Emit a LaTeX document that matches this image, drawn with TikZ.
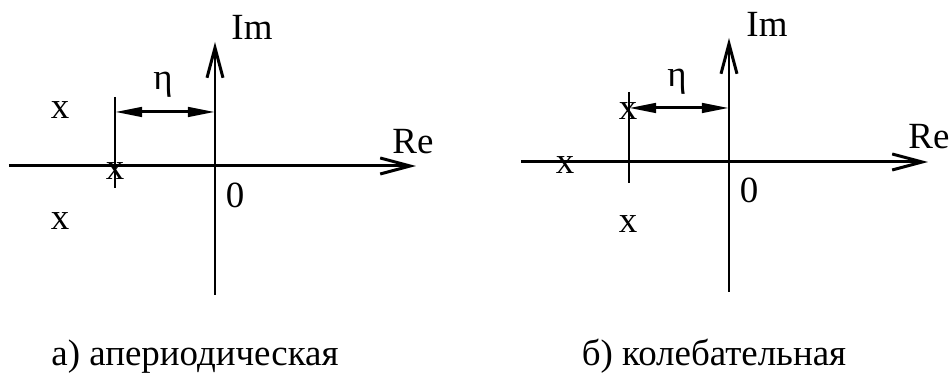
\documentclass[tikz,border=0pt]{standalone}
\usepackage{fontspec}
\setmainfont{Liberation Serif}
\usetikzlibrary{arrows.meta}

\begin{document}
\begin{tikzpicture}[
        x=0.01cm, y=-0.01cm,
        line width=0.85pt,
        font=\fontsize{10.5}{12}\selectfont,
        axis/.style={-{Straight Barb[length=3mm, width=1.6mm]}},
        dim/.style={{Triangle[length=2.7mm, width=0.95mm]}-{Triangle[length=2.7mm, width=0.95mm]}},
        lbl/.style={inner sep=0pt, anchor=center},
        pole/.style={inner sep=0pt, anchor=center},
        caption/.style={inner sep=0pt, anchor=base},
      ]
      \useasboundingbox (0,0) rectangle (950,374);

      % a) aperiodic
      \coordinate (reA0) at (9,166);
      \coordinate (reA1) at (416,166);
      \coordinate (imA0) at (215,295);
      \coordinate (imA1) at (215,42);
      \coordinate (tkA0) at (115,97);
      \coordinate (tkA1) at (115,188);
      \coordinate (dmA0) at (115,112);
      \coordinate (dmA1) at (215,112);

      \draw[axis] (reA0) -- (reA1);
      \draw[axis] (imA0) -- (imA1);
      \draw (tkA0) -- (tkA1);
      \draw[dim] (dmA0) -- (dmA1);

      \node[lbl] (imA) at (252,27) {Im};
      \node[lbl] (reA) at (413,142) {Re};
      \node[lbl] (zeroA) at (235,195) {0};
      \node[lbl] (etaA) at (163,85) {η};
      \node[pole] (pA1) at (60,110) {x};
      \node[pole] (pA2) at (115,171) {x};
      \node[pole] (pA3) at (60,221) {x};

      % b) oscillating
      \coordinate (reB0) at (521,162);
      \coordinate (reB1) at (928,162);
      \coordinate (imB0) at (729,292);
      \coordinate (imB1) at (729,38);
      \coordinate (tkB0) at (629,92);
      \coordinate (tkB1) at (629,183);
      \coordinate (dmB0) at (629,108);
      \coordinate (dmB1) at (729,108);

      \draw[axis] (reB0) -- (reB1);
      \draw[axis] (imB0) -- (imB1);
      \draw (tkB0) -- (tkB1);
      \draw[dim] (dmB0) -- (dmB1);

      \node[lbl] (imB) at (767,24) {Im};
      \node[lbl] (reB) at (929,137) {Re};
      \node[lbl] (zeroB) at (749,190) {0};
      \node[lbl] (etaB) at (677,82) {η};
      \node[pole] (pB1) at (628,111) {x};
      \node[pole] (pB2) at (565,165) {x};
      \node[pole] (pB3) at (628,224) {x};

      \node[caption] (capA) at (195,366) {а) апериодическая};
      \node[caption] (capB) at (714,366) {б) колебательная};

    \end{tikzpicture}
\end{document}
